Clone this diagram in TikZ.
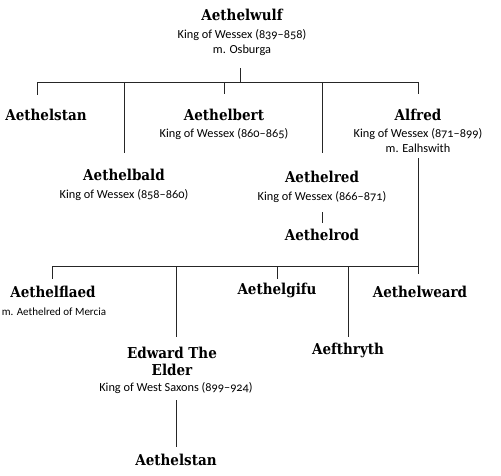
\documentclass[tikz,border=0pt]{standalone}
\usepackage{fontspec}
\setmainfont[Numbers=OldStyle]{Carlito}
\newfontfamily\blackfont{DejaVu Serif Condensed}
\tikzset{
  x=1pt, y=-1pt,
  title/.style={inner sep=0pt, anchor=center, font=\fontsize{15}{17}\selectfont\blackfont\bfseries},
  sub/.style={inner sep=0pt, anchor=center, font=\fontsize{12.3}{12}\selectfont},
  link/.style={draw=black!85, line width=0.8pt},
}
\begin{document}
\begin{tikzpicture}
\useasboundingbox (0,0) rectangle (501,475);
% generation 1
\node[title] (wulf) at (242,15) {Aethelwulf};
\node[sub] (wulfa) at (242,35) {King of Wessex (839–858)};
\node[sub] (wulfb) at (242,50) {m. Osburga};
% generation 2
\node[title] (stan) at (46,115) {Aethelstan};
\node[title] (bert) at (224,115) {Aethelbert};
\node[sub] (berta) at (224,134) {King of Wessex (860–865)};
\node[title] (alf) at (418,115) {Alfred};
\node[sub] (alfa) at (418,134) {King of Wessex (871–899)};
\node[sub] (alfb) at (418,148) {m. Ealhswith};
\node[title] (bald) at (124,175) {Aethelbald};
\node[sub] (balda) at (124,195) {King of Wessex (858–860)};
\node[title] (red) at (322,177) {Aethelred};
\node[sub] (reda) at (322,197) {King of Wessex (866–871)};
\node[title] (rod) at (322,235) {Aethelrod};
% generation 3
\node[title] (flaed) at (53,292) {Aethelflaed};
\node[sub, font=\fontsize{11}{11}\selectfont] (flaeda) at (54,312) {m. Aethelred of Mercia};
\node[title] (gifu) at (277,290) {Aethelgifu};
\node[title] (weard) at (420,292) {Aethelweard};
\node[title] (thryth) at (348,350) {Aefthryth};
\node[title, align=center] (edw) at (172,361) {Edward The\\Elder};
\node[sub] (edwa) at (176,388) {King of West Saxons (899–924)};
\node[title] (stan2) at (176,460) {Aethelstan};
% bus coordinates
\coordinate (w0) at (240,68);
\coordinate (w1) at (240,82);
\coordinate (b1l) at (37,82);
\coordinate (b1r) at (418,82);
\coordinate (b2l) at (52,266);
\coordinate (b2r) at (418,266);
% connectors
\draw[link] (w0) -- (w1);
\draw[link] (b1l) -- (b1r);
\draw[link] (b1l) -- (b1l |- 0,95);
\draw[link] (bert.north |- b1l) -- (bert.north |- 0,94);
\draw[link] (bald.north |- b1l) -- (bald.north |- 0,153);
\draw[link] (red.north |- b1l) -- (red.north |- 0,153);
\draw[link] (b1r) -- (alf.north |- 0,94);
\draw[link] (reda.south |- 0,212) -- (rod.north |- 0,223);
\draw[link] (alfb.south |- 0,158) -- (alfb.south |- 0,274);
\draw[link] (b2l) -- (b2r);
\draw[link] (b2l) -- (b2l |- 0,279);
\draw[link] (gifu.north |- b2l) -- (gifu.north |- 0,279);
\draw[link] (edwa.north |- b2l) -- (edwa.north |- 0,337);
\draw[link] (thryth.north |- b2l) -- (thryth.north |- 0,337);
\draw[link] (edwa.south |- 0,400) -- (stan2.north |- 0,447);
\end{tikzpicture}
\end{document}
